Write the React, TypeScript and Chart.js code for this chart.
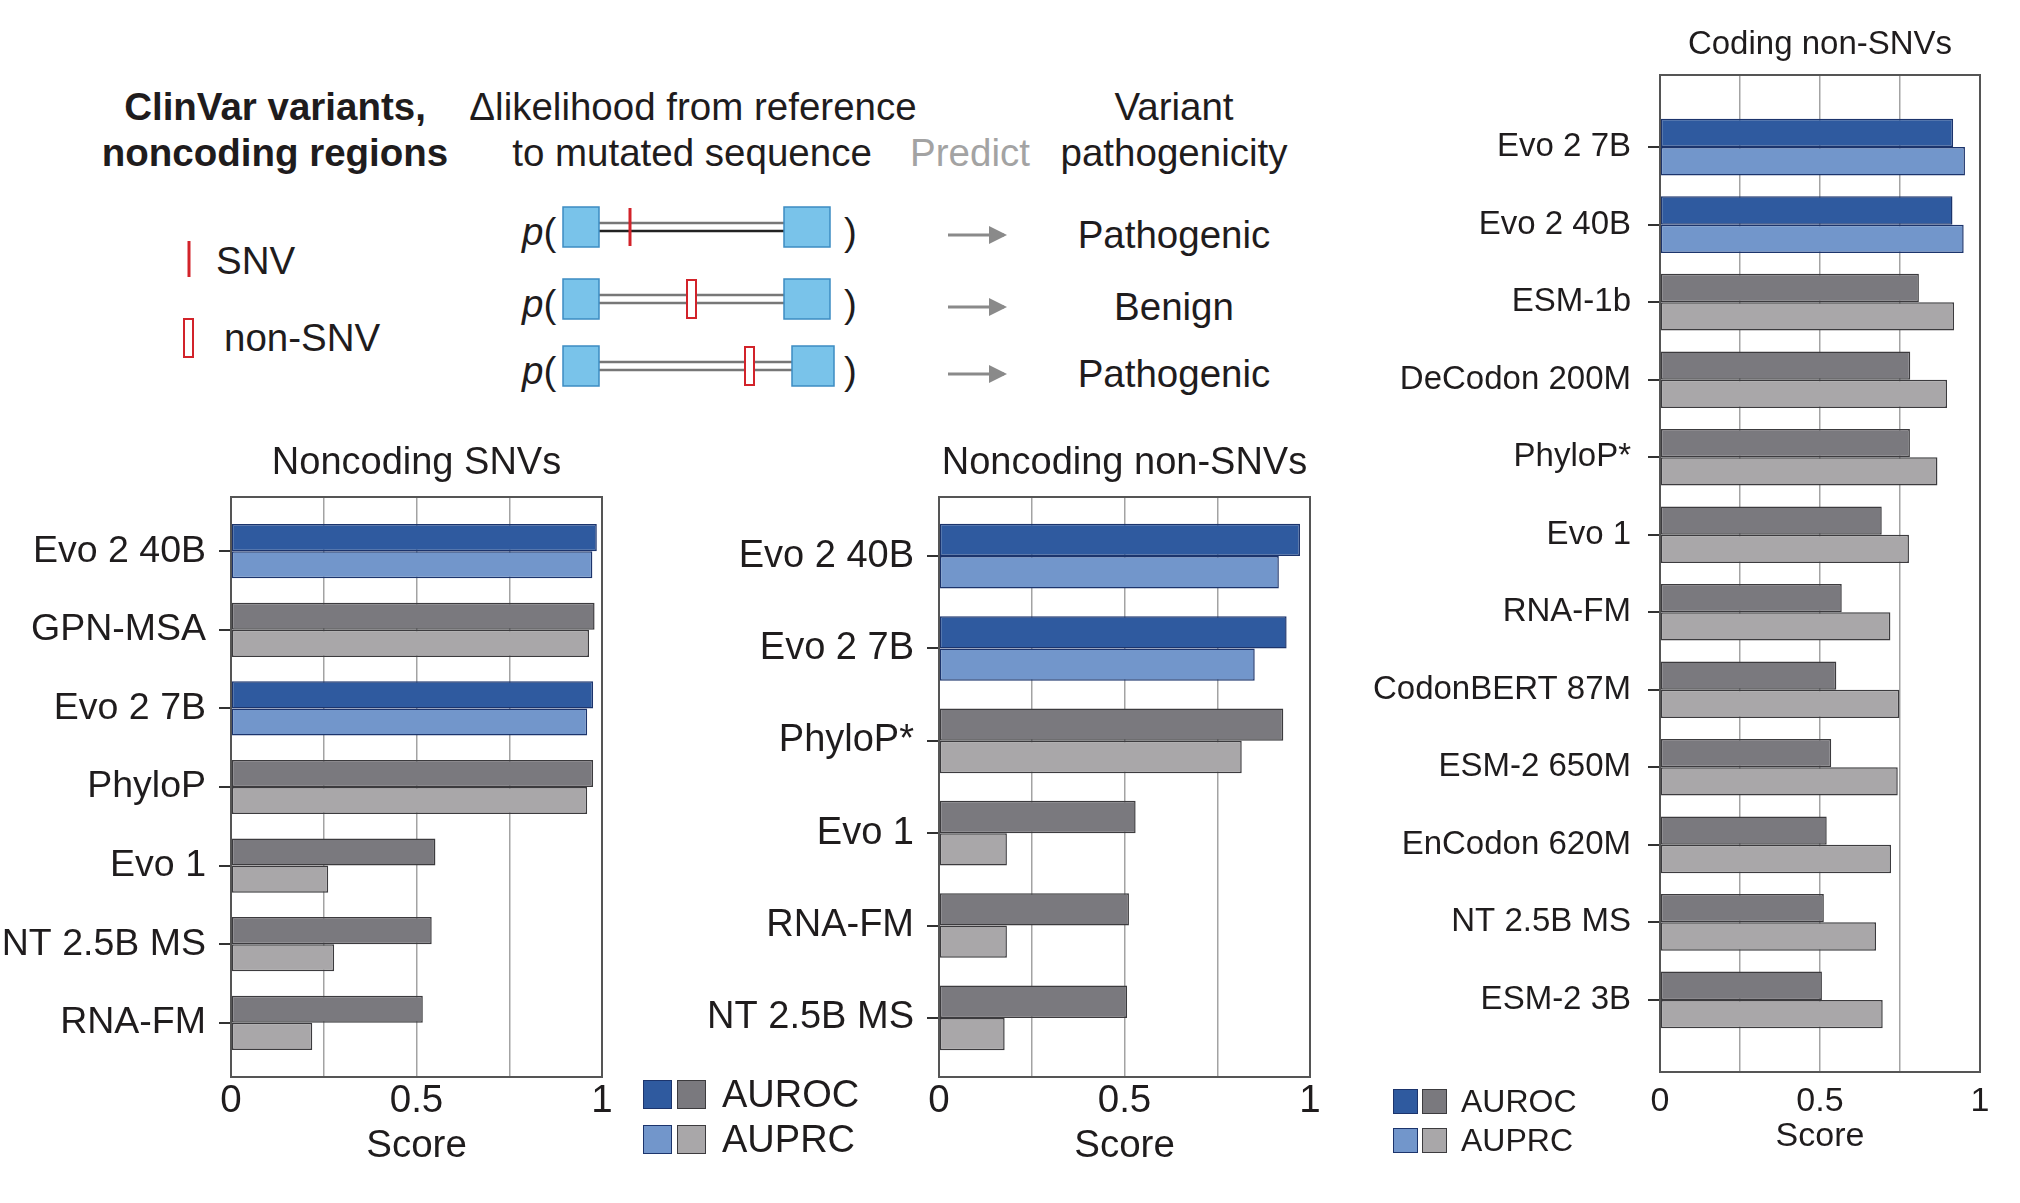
import React, { useEffect, useRef } from 'react';
import { Chart, registerables } from 'chart.js';

Chart.register(...registerables);

// ---------------- DATA ----------------
const snvCategories = ['Evo 2 40B', 'GPN-MSA', 'Evo 2 7B', 'PhyloP', 'Evo 1', 'NT 2.5B MS', 'RNA-FM'];
const snvAuroc = [0.986, 0.98, 0.976, 0.976, 0.551, 0.541, 0.517];
const snvAuprc = [0.974, 0.965, 0.96, 0.96, 0.262, 0.278, 0.219];

const nonSnvCategories = ['Evo 2 40B', 'Evo 2 7B', 'PhyloP*', 'Evo 1', 'RNA-FM', 'NT 2.5B MS'];
const nonSnvAuroc = [0.973, 0.937, 0.928, 0.53, 0.512, 0.507];
const nonSnvAuprc = [0.916, 0.851, 0.816, 0.183, 0.183, 0.177];

const codingCategories = [
  'Evo 2 7B', 'Evo 2 40B', 'ESM-1b', 'DeCodon 200M', 'PhyloP*', 'Evo 1',
  'RNA-FM', 'CodonBERT 87M', 'ESM-2 650M', 'EnCodon 620M', 'NT 2.5B MS', 'ESM-2 3B',
];
const codingAuroc = [0.916, 0.914, 0.809, 0.782, 0.781, 0.693, 0.568, 0.551, 0.535, 0.521, 0.512, 0.506];
const codingAuprc = [0.953, 0.949, 0.919, 0.897, 0.867, 0.778, 0.72, 0.748, 0.743, 0.722, 0.675, 0.696];

const xTickValues = [0, 0.5, 1];
const xTickLabels = ['0', '0.5', '1'];
const metricLabels = ['AUROC', 'AUPRC'];

// ---------------- STYLE ----------------
const FONT = '"Liberation Sans", Arial, Helvetica, sans-serif';
const TEXT = '#1f1c1d';
const DARK_BLUE = '#2f5a9f';
const LIGHT_BLUE = '#7296cb';
const DARK_GRAY = '#7a797e';
const LIGHT_GRAY = '#a9a7a9';
const BLUE_BORDER = '#1c346c';
const GRAY_BORDER = '#3c3b3e';

const isEvo2 = (c: string) => c.startsWith('Evo 2');

type PanelProps = {
  title: string;
  categories: string[];
  auroc: number[];
  auprc: number[];
  left: number;
  top: number;
  width: number;
  height: number;
  padTop: number;
  padRight: number;
  yAxisWidth: number;
  xAxisHeight: number;
  titleOffset: number;
  edge: number;
  groupPct: number;
  fontSize: number;
  tickSize: number;
  titleSize: number;
  tickPad: number;
  labelPad: number;
  scorePadBottom: number;
};

function Panel(p: PanelProps) {
  const ref = useRef<HTMLCanvasElement | null>(null);
  useEffect(() => {
    if (!ref.current) return;
    const n = p.categories.length;
    const yMin = -p.edge;
    const yMax = n - 1 + p.edge;
    const framePlugin = {
      id: 'frameTitle',
      afterDatasetsDraw(chart: any) {
        const { ctx, chartArea } = chart;
        ctx.save();
        ctx.strokeStyle = '#555';
        ctx.lineWidth = 2;
        ctx.strokeRect(chartArea.left, chartArea.top, chartArea.right - chartArea.left, chartArea.bottom - chartArea.top);
        ctx.restore();
      },
      afterDraw(chart: any) {
        const { ctx, chartArea } = chart;
        ctx.save();
        ctx.fillStyle = TEXT;
        ctx.font = `${p.titleSize}px ${FONT}`;
        ctx.textAlign = 'center';
        ctx.textBaseline = 'middle';
        ctx.fillText(p.title, (chartArea.left + chartArea.right) / 2, chartArea.top - p.titleOffset);
        ctx.restore();
      },
    };
    const mk = (vals: number[], evoColor: string, otherColor: string, label: string) => ({
      label,
      data: p.categories.map((_, i) => ({ x: vals[i], y: i })),
      backgroundColor: p.categories.map((c) => (isEvo2(c) ? evoColor : otherColor)),
      borderColor: p.categories.map((c) => (isEvo2(c) ? BLUE_BORDER : GRAY_BORDER)),
      borderWidth: 1.5,
      borderSkipped: false,
      barPercentage: 1,
      categoryPercentage: p.groupPct,
    });
    const font = { family: FONT, size: p.fontSize };
    const tickFont = { family: FONT, size: p.tickSize };
    const chart = new Chart(ref.current, {
      type: 'bar',
      data: {
        datasets: [
          mk(p.auroc, DARK_BLUE, DARK_GRAY, metricLabels[0]),
          mk(p.auprc, LIGHT_BLUE, LIGHT_GRAY, metricLabels[1]),
        ] as any,
      },
      options: {
        indexAxis: 'y',
        animation: false,
        responsive: false,
        maintainAspectRatio: false,
        devicePixelRatio: 1,
        layout: { padding: { top: p.padTop, right: p.padRight, left: 0, bottom: 0 } },
        plugins: { legend: { display: false }, tooltip: { enabled: false }, title: { display: false } },
        scales: {
          x: {
            type: 'linear',
            min: 0,
            max: 1,
            ticks: {
              stepSize: 0.25,
              autoSkip: false,
              maxRotation: 0,
              padding: p.tickPad,
              color: TEXT,
              font: tickFont,
              callback: (v: any) => {
                const k = xTickValues.findIndex((t) => Math.abs(t - Number(v)) < 1e-6);
                return k >= 0 ? xTickLabels[k] : '';
              },
            },
            grid: { color: '#a3a3a3', lineWidth: 1.5, drawTicks: false },
            border: { display: false },
            title: { display: true, text: 'Score', color: TEXT, font: tickFont, padding: { top: 0, bottom: p.scorePadBottom } },
            afterFit: (s: any) => {
              s.height = p.xAxisHeight;
            },
          },
          y: {
            type: 'linear',
            reverse: true,
            bounds: 'data',
            offset: false,
            grace: 0,
            min: yMin,
            max: yMax,
            afterDataLimits: (s: any) => {
              s.min = yMin;
              s.max = yMax;
            },
            afterBuildTicks: (s: any) => {
              s.ticks = p.categories.map((_, i) => ({ value: i }));
              s.min = yMin;
              s.max = yMax;
            },
            ticks: {
              autoSkip: false,
              padding: p.labelPad,
              color: TEXT,
              font,
              callback: (v: any) => {
                const i = Number(v);
                return Number.isInteger(i) && p.categories[i] !== undefined ? p.categories[i] : '';
              },
            },
            grid: { offset: false, drawOnChartArea: false, drawTicks: true, tickLength: 12, color: '#333', lineWidth: 2 },
            border: { display: false },
            afterFit: (s: any) => {
              s.width = p.yAxisWidth;
            },
          },
        },
      } as any,
      plugins: [framePlugin],
    });
    return () => chart.destroy();
  }, []);
  return (
    <canvas
      ref={ref}
      width={p.width}
      height={p.height}
      style={{ position: 'absolute', left: p.left, top: p.top, width: p.width, height: p.height }}
    />
  );
}

function Legend({ left, top, sq, gap, rowGap, fontSize, textLeft }: any) {
  const rows = [
    { label: metricLabels[0], a: DARK_BLUE, b: DARK_GRAY },
    { label: metricLabels[1], a: LIGHT_BLUE, b: LIGHT_GRAY },
  ];
  return (
    <div style={{ position: 'absolute', left, top }}>
      {rows.map((r, i) => (
        <div key={i} style={{ position: 'absolute', left: 0, top: i * rowGap, height: sq, width: 300 }}>
          <div style={{ position: 'absolute', left: 0, top: 0, width: sq, height: sq, background: r.a, border: `1.5px solid ${BLUE_BORDER}`, boxSizing: 'border-box' }} />
          <div style={{ position: 'absolute', left: sq + gap, top: 0, width: sq, height: sq, background: r.b, border: `1.5px solid ${GRAY_BORDER}`, boxSizing: 'border-box' }} />
          <div style={{ position: 'absolute', left: textLeft, top: sq / 2 - fontSize * 0.6, fontSize, lineHeight: `${fontSize * 1.2}px`, fontFamily: FONT, color: TEXT, whiteSpace: 'nowrap' }}>{r.label}</div>
        </div>
      ))}
    </div>
  );
}

function Schematic() {
  const fs = 38.5;
  const rows = [
    { cy: 227, mark: 'snv', mx: 630, rbx: 784, rbw: 46, label: 'Pathogenic' },
    { cy: 299, mark: 'ins', mx: 687, rbx: 784, rbw: 46, label: 'Benign' },
    { cy: 366, mark: 'ins', mx: 745, rbx: 792, rbw: 42, label: 'Pathogenic' },
  ];
  return (
    <svg width={2020} height={1203} style={{ position: 'absolute', left: 0, top: 0 }} fontFamily={FONT}>
      <defs>
        <marker id="ah" markerWidth="6" markerHeight="6" refX="5" refY="3" orient="auto" markerUnits="strokeWidth">
          <path d="M0,0 L6,3 L0,6 z" fill="#8a8a8a" />
        </marker>
      </defs>
      <g fill={TEXT} fontSize={fs} textAnchor="middle" dominantBaseline="central">
        <text x={275} y={106} fontWeight="bold">ClinVar variants,</text>
        <text x={275} y={152} fontWeight="bold">noncoding regions</text>
        <text x={693} y={106}>Δlikelihood from reference</text>
        <text x={692} y={152}>to mutated sequence</text>
        <text x={970} y={152} fill="#a3a3a3">Predict</text>
        <text x={1174} y={106}>Variant</text>
        <text x={1174} y={152}>pathogenicity</text>
      </g>
      <line x1={189} y1={241} x2={189} y2={277} stroke="#d2232a" strokeWidth={3} />
      <text x={216} y={260} fontSize={fs} fill={TEXT} dominantBaseline="central">SNV</text>
      <rect x={184} y={319} width={9} height={38} fill="none" stroke="#d2232a" strokeWidth={2} />
      <text x={224} y={337} fontSize={fs} fill={TEXT} dominantBaseline="central">non-SNV</text>
      {rows.map((r, i) => (
        <g key={i}>
          <text x={522} y={r.cy + 4} fontSize={fs} fill={TEXT} dominantBaseline="central"><tspan fontStyle="italic">p</tspan>(</text>
          <line x1={597} y1={r.cy - 4} x2={r.rbx} y2={r.cy - 4} stroke="#777" strokeWidth={2.5} />
          <line x1={597} y1={r.cy + 4} x2={r.rbx} y2={r.cy + 4} stroke={i === 0 ? '#222' : '#777'} strokeWidth={2.5} />
          <rect x={563} y={r.cy - 20} width={36} height={40} fill="#79c3ea" stroke="#3d8cc2" strokeWidth={1.5} />
          <rect x={r.rbx} y={r.cy - 20} width={r.rbw} height={40} fill="#79c3ea" stroke="#3d8cc2" strokeWidth={1.5} />
          {r.mark === 'snv' ? (
            <line x1={r.mx} y1={r.cy - 19} x2={r.mx} y2={r.cy + 19} stroke="#d2232a" strokeWidth={3} />
          ) : (
            <rect x={r.mx} y={r.cy - 19} width={9} height={38} fill="#fff" stroke="#d2232a" strokeWidth={2} />
          )}
          <text x={844} y={r.cy + 4} fontSize={fs} fill={TEXT} dominantBaseline="central">)</text>
          <line x1={948} y1={r.cy + 8} x2={1004} y2={r.cy + 8} stroke="#8a8a8a" strokeWidth={3} markerEnd="url(#ah)" />
          <text x={1174} y={r.cy + 7} fontSize={fs} fill={TEXT} textAnchor="middle" dominantBaseline="central">{r.label}</text>
        </g>
      ))}
    </svg>
  );
}

export default function App() {
  return (
    <div style={{ position: 'absolute', left: 0, top: 0, width: 2020, height: 1203, background: '#fff', overflow: 'hidden' }}>
      <Schematic />
      <Panel
        title="Noncoding SNVs"
        categories={snvCategories}
        auroc={snvAuroc}
        auprc={snvAuprc}
        left={0}
        top={418}
        width={622}
        height={758}
        padTop={79}
        padRight={20}
        yAxisWidth={231}
        xAxisHeight={99}
        titleOffset={33}
        edge={0.69}
        groupPct={0.69}
        fontSize={37.5}
        tickSize={38.5}
        titleSize={38}
        tickPad={1}
        labelPad={13}
        scorePadBottom={7}
      />
      <Panel
        title="Noncoding non-SNVs"
        categories={nonSnvCategories}
        auroc={nonSnvAuroc}
        auprc={nonSnvAuprc}
        left={647}
        top={418}
        width={683}
        height={758}
        padTop={79}
        padRight={20}
        yAxisWidth={292}
        xAxisHeight={99}
        titleOffset={33}
        edge={0.64}
        groupPct={0.7}
        fontSize={38}
        tickSize={38.5}
        titleSize={38}
        tickPad={1}
        labelPad={13}
        scorePadBottom={7}
      />
      <Panel
        title="Coding non-SNVs"
        categories={codingCategories}
        auroc={codingAuroc}
        auprc={codingAuprc}
        left={1334}
        top={0}
        width={672}
        height={1157}
        padTop={75}
        padRight={26}
        yAxisWidth={326}
        xAxisHeight={85}
        titleOffset={30}
        edge={0.93}
        groupPct={0.73}
        fontSize={33}
        tickSize={34}
        titleSize={33}
        tickPad={9}
        labelPad={17}
        scorePadBottom={0}
      />
      <Legend left={643} top={1080} sq={29} gap={5} rowGap={45} fontSize={38} textLeft={79} />
      <Legend left={1393} top={1089} sq={25} gap={4} rowGap={39} fontSize={32} textLeft={68} />
    </div>
  );
}
